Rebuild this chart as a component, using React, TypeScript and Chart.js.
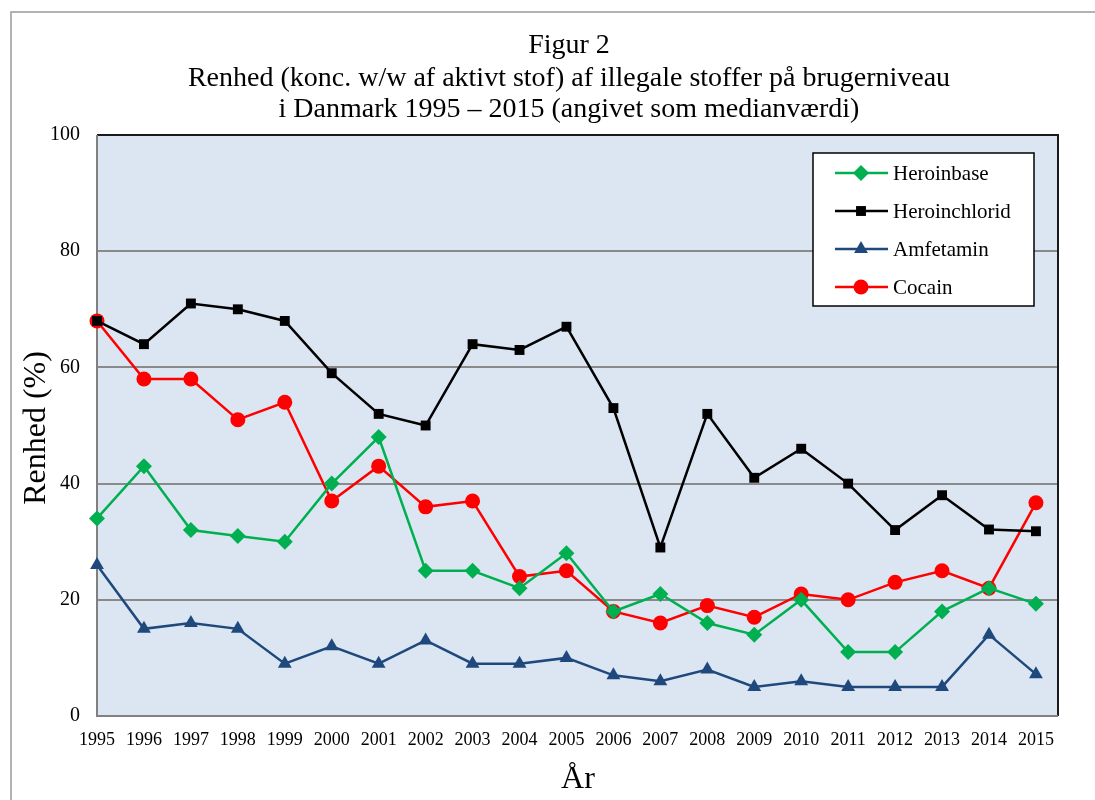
import React, { useEffect, useRef } from 'react';
import { Chart, registerables } from 'chart.js';

Chart.register(...registerables);

const years = [1995, 1996, 1997, 1998, 1999, 2000, 2001, 2002, 2003, 2004, 2005, 2006, 2007, 2008, 2009, 2010, 2011, 2012, 2013, 2014, 2015];
const heroinbase = [34, 43, 32, 31, 30, 40, 48, 25, 25, 22, 28, 18, 21, 16, 14, 20, 11, 11, 18, 22, 19.3];
const heroinchlorid = [68, 64, 71, 70, 68, 59, 52, 50, 64, 63, 67, 53, 29, 52, 41, 46, 40, 32, 38, 32.1, 31.8];
const amfetamin = [26, 15, 16, 15, 9, 12, 9, 13, 9, 9, 10, 7, 6, 8, 5, 6, 5, 5, 5, 14, 7.2];
const cocain = [68, 58, 58, 51, 54, 37, 43, 36, 37, 24, 25, 18, 16, 19, 17, 21, 20, 23, 25, 22, 36.7];

const seriesLabels = ['Heroinbase', 'Heroinchlorid', 'Amfetamin', 'Cocain'];
const titleLines = [
  'Figur 2',
  'Renhed (konc. w/w af aktivt stof) af illegale stoffer på brugerniveau',
  'i Danmark 1995 – 2015 (angivet som medianværdi)',
];
const yAxisTitle = 'Renhed (%)';
const xAxisTitle = 'År';

const SERIF = '"Liberation Serif", "Times New Roman", serif';

function drawMarker(ctx: CanvasRenderingContext2D, style: string, x: number, y: number, r: number, color: string) {
  ctx.save();
  ctx.fillStyle = color;
  ctx.beginPath();
  if (style === 'circle') {
    ctx.arc(x, y, r, 0, Math.PI * 2);
  } else if (style === 'rect') {
    const s = r * Math.SQRT1_2;
    ctx.rect(x - s, y - s, 2 * s, 2 * s);
  } else if (style === 'rectRot') {
    ctx.moveTo(x, y - r);
    ctx.lineTo(x + r, y);
    ctx.lineTo(x, y + r);
    ctx.lineTo(x - r, y);
    ctx.closePath();
  } else if (style === 'triangle') {
    const side = (3 * r) / Math.sqrt(3);
    const h = (side * Math.sqrt(3)) / 2;
    ctx.moveTo(x, y - (2 * h) / 3);
    ctx.lineTo(x + side / 2, y + h / 3);
    ctx.lineTo(x - side / 2, y + h / 3);
    ctx.closePath();
  }
  ctx.fill();
  ctx.restore();
}

const decorPlugin = {
  id: 'decor',
  beforeDraw(chart: any) {
    const { ctx, chartArea: a } = chart;
    ctx.save();
    ctx.fillStyle = '#ffffff';
    ctx.fillRect(0, 0, chart.width, chart.height);
    // outer frame
    ctx.strokeStyle = '#9a9a9a';
    ctx.lineWidth = 1.5;
    ctx.beginPath();
    ctx.moveTo(11, chart.height + 2);
    ctx.lineTo(11, 12);
    ctx.lineTo(chart.width + 2, 12);
    ctx.stroke();
    // plot background
    ctx.fillStyle = '#dce6f2';
    ctx.fillRect(a.left, a.top, a.right - a.left, a.bottom - a.top);
    // titles
    ctx.fillStyle = '#000';
    ctx.textAlign = 'center';
    ctx.textBaseline = 'alphabetic';
    ctx.font = `28px ${SERIF}`;
    const cx = 569;
    const baselines = [53, 85.5, 117];
    titleLines.forEach((t, i) => ctx.fillText(t, cx, baselines[i]));
    // axis titles
    ctx.font = `32px ${SERIF}`;
    ctx.fillText(xAxisTitle, 578, 788);
    ctx.save();
    ctx.translate(45, 428);
    ctx.rotate(-Math.PI / 2);
    ctx.fillText(yAxisTitle, 0, 0);
    ctx.restore();
    ctx.restore();
  },
  beforeDatasetsDraw(chart: any) {
    const { ctx, chartArea: a } = chart;
    ctx.save();
    ctx.lineWidth = 2;
    ctx.strokeStyle = '#1a1a1a';
    ctx.beginPath();
    ctx.moveTo(a.left, a.top);
    ctx.lineTo(a.right, a.top);
    ctx.lineTo(a.right, a.bottom);
    ctx.stroke();
    ctx.strokeStyle = '#808080';
    ctx.beginPath();
    ctx.moveTo(a.left, a.top);
    ctx.lineTo(a.left, a.bottom);
    ctx.lineTo(a.right, a.bottom);
    ctx.stroke();
    ctx.restore();
  },
  afterDraw(chart: any) {
    const { ctx, chartArea: a } = chart;
    const bx = a.right - 245;
    const by = a.top + 18;
    const bw = 221;
    const bh = 153;
    ctx.save();
    ctx.fillStyle = '#fff';
    ctx.fillRect(bx, by, bw, bh);
    ctx.strokeStyle = '#000';
    ctx.lineWidth = 1.5;
    ctx.strokeRect(bx, by, bw, bh);
    chart.data.datasets.forEach((ds: any, i: number) => {
      const y = by + 20 + i * 38;
      ctx.strokeStyle = ds.borderColor;
      ctx.lineWidth = 2.5;
      ctx.beginPath();
      ctx.moveTo(bx + 22, y);
      ctx.lineTo(bx + 75, y);
      ctx.stroke();
      drawMarker(ctx, ds.pointStyle, bx + 48, y, ds.pointRadius, ds.backgroundColor);
      ctx.fillStyle = '#000';
      ctx.font = `21px ${SERIF}`;
      ctx.textAlign = 'left';
      ctx.textBaseline = 'middle';
      ctx.fillText(ds.label, bx + 80, y + 1);
    });
    ctx.restore();
  },
};

function makeDataset(label: string, values: number[], color: string, style: string, radius: number) {
  return {
    label,
    data: years.map((yr, i) => ({ x: yr, y: values[i] })),
    borderColor: color,
    backgroundColor: color,
    borderWidth: 2.5,
    pointStyle: style,
    pointRadius: radius,
    pointBorderWidth: 0,
    pointBackgroundColor: color,
    pointBorderColor: color,
    tension: 0,
    clip: false,
  };
}

export default function App() {
  const ref = useRef<HTMLCanvasElement | null>(null);
  useEffect(() => {
    document.body.style.margin = '0';
    document.body.style.overflow = 'hidden';
    const canvas = ref.current;
    if (!canvas) return;
    const chart = new Chart(canvas, {
      type: 'line',
      data: {
        datasets: [
          makeDataset(seriesLabels[0], heroinbase, '#00b050', 'rectRot', 8),
          makeDataset(seriesLabels[1], heroinchlorid, '#000000', 'rect', 7),
          makeDataset(seriesLabels[2], amfetamin, '#1f497d', 'triangle', 8),
          makeDataset(seriesLabels[3], cocain, '#ff0000', 'circle', 7.5),
        ] as any,
      },
      options: {
        animation: false,
        responsive: false,
        devicePixelRatio: 1,
        layout: { padding: { top: 135, right: 37, bottom: 0, left: 0 } },
        plugins: {
          legend: { display: false },
          title: { display: false },
          tooltip: { enabled: false },
        },
        scales: {
          x: {
            type: 'linear',
            min: 1995,
            max: 2015.47,
            afterBuildTicks: (s: any) => {
              s.ticks = years.map((v) => ({ value: v }));
            },
            afterFit: (s: any) => {
              s.height = 84;
            },
            ticks: {
              autoSkip: false,
              maxRotation: 0,
              padding: 13,
              color: '#000',
              font: { family: SERIF, size: 18 },
              callback: (v: any) => String(v),
            },
            grid: { display: false, drawTicks: false },
            border: { display: false },
          },
          y: {
            min: 0,
            max: 100,
            afterFit: (s: any) => {
              s.width = 97;
            },
            ticks: {
              stepSize: 20,
              padding: 17,
              color: '#000',
              font: { family: SERIF, size: 20 },
            },
            grid: {
              drawTicks: false,
              lineWidth: 2,
              color: (c: any) => (c.tick && (c.tick.value === 0 || c.tick.value === 100) ? 'rgba(0,0,0,0)' : '#8a8a8a'),
            },
            border: { display: false },
          },
        },
      } as any,
      plugins: [decorPlugin],
    });
    return () => chart.destroy();
  }, []);
  return <canvas ref={ref} width={1095} height={800} style={{ display: 'block', width: 1095, height: 800 }} />;
}
